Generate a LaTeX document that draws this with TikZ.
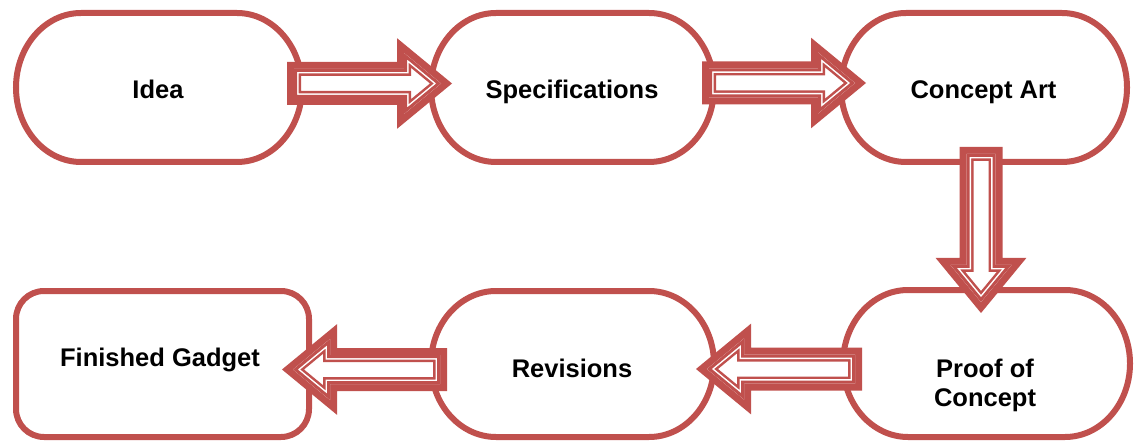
\documentclass[tikz,border=0pt]{standalone}
\usepackage{fontspec}
\setmainfont{Liberation Sans}
\usetikzlibrary{calc}
\definecolor{accent}{HTML}{C0504D}

\newcommand\arrshaft{14.5pt}
\newcommand\arrhead{30.5pt}
\newcommand\arrlen{37pt}

\tikzset{
  boxnode/.style={draw=none, inner sep=0pt, outer sep=0pt, minimum width=#1},
  boxline/.style={draw=accent, line width=6pt, fill=white},
  lbl/.style={font=\bfseries\fontsize{25.5}{29}\selectfont, text=black, anchor=base, inner sep=0pt},
  arrpath/.style={to path={
    let \p1=(\tikztostart), \p2=(\tikztotarget),
        \n1={veclen(\x2-\x1,\y2-\y1)-\arrlen} in
    ($(\p1)!\arrshaft!90:(\p2)$)
    -- ($(\p1)!\n1!(\p2)!\arrshaft!90:(\p2)$)
    -- ($(\p1)!\n1!(\p2)!\arrhead!90:(\p2)$)
    -- (\p2)
    -- ($(\p1)!\n1!(\p2)!\arrhead!-90:(\p2)$)
    -- ($(\p1)!\n1!(\p2)!\arrshaft!-90:(\p2)$)
    -- ($(\p1)!\arrshaft!-90:(\p2)$) -- cycle}},
}

% stadium outline with elliptical ends around a node
\newcommand\stadium[2][65pt]{%
  \draw[boxline] let \p1=(#2.north), \p2=(#2.south), \n1={(\y1-\y2)/2} in
    ([xshift=#1]#2.north west) -- ([xshift=-#1]#2.north east)
    arc[start angle=90, end angle=-90, x radius=#1, y radius=\n1]
    -- ([xshift=#1]#2.south west)
    arc[start angle=270, end angle=90, x radius=#1, y radius=\n1] -- cycle;}

% block arrow: thick outer band, thin white line, thin inner band
\newcommand\blockarrow[2]{%
  \draw[draw=accent, line width=14pt, fill=white] (#1) to[arrpath] (#2);
  \begin{scope}
    \clip (#1) to[arrpath] (#2);
    \draw[white, line width=9pt] (#1) to[arrpath] (#2);
    \draw[accent, line width=6pt] (#1) to[arrpath] (#2);
  \end{scope}}

\begin{document}
\begin{tikzpicture}[x=1pt, y=1pt]
  \useasboundingbox (0,0) rectangle (1134,442);

  % boxes
  \node[boxnode=286pt, minimum height=149pt] (idea) at (159,354.5) {};
  \node[boxnode=283pt, minimum height=149pt] (spec) at (572.5,354.5) {};
  \node[boxnode=286pt, minimum height=149pt] (concept) at (984,354.5) {};
  \node[boxnode=287pt, minimum height=147pt] (proof) at (986.5,78.5) {};
  \node[boxnode=283pt, minimum height=146pt] (revisions) at (572.5,78) {};
  \node[draw=accent, line width=6pt, fill=white, rounded corners=28pt,
        inner sep=0pt, outer sep=0pt, minimum width=293pt, minimum height=146pt]
        (finished) at (162.5,78) {};

  \stadium{idea}
  \stadium{spec}
  \stadium{concept}
  \stadium{proof}
  \stadium{revisions}

  % labels
  \node[lbl] (ideaT) at (158,343) {Idea};
  \node[lbl] (specT) at (572,343) {Specifications};
  \node[lbl] (conceptT) at (983.5,343.5) {Concept Art};
  \node[lbl] (finishedT) at (160,76) {Finished Gadget};
  \node[lbl] (revisionsT) at (572,64.5) {Revisions};
  \node[lbl, align=center] (proofT) at (985,36) {Proof of\\Concept};

  % arrow end points
  \coordinate (a1s) at ($(idea.east)+(-8,4)$);
  \coordinate (a1e) at ($(spec.west)+(10,4)$);
  \coordinate (a2s) at ($(spec.east)+(-5,4.5)$);
  \coordinate (a2e) at ($(concept.west)+(14,4.5)$);
  \coordinate (a3s) at ($(concept.south)+(-3,8)$);
  \coordinate (a3e) at ($(proof.north)+(-5.5,-12)$);
  \coordinate (a4s) at ($(proof.west)+(12,-5.5)$);
  \coordinate (a4e) at ($(revisions.east)+(-7,-5)$);
  \coordinate (a5s) at ($(revisions.west)+(9,-5.5)$);
  \coordinate (a5e) at ($(finished.east)+(-16,-5.5)$);

  \blockarrow{a1s}{a1e}
  \blockarrow{a2s}{a2e}
  \blockarrow{a3s}{a3e}
  \blockarrow{a4s}{a4e}
  \blockarrow{a5s}{a5e}
\end{tikzpicture}
\end{document}
